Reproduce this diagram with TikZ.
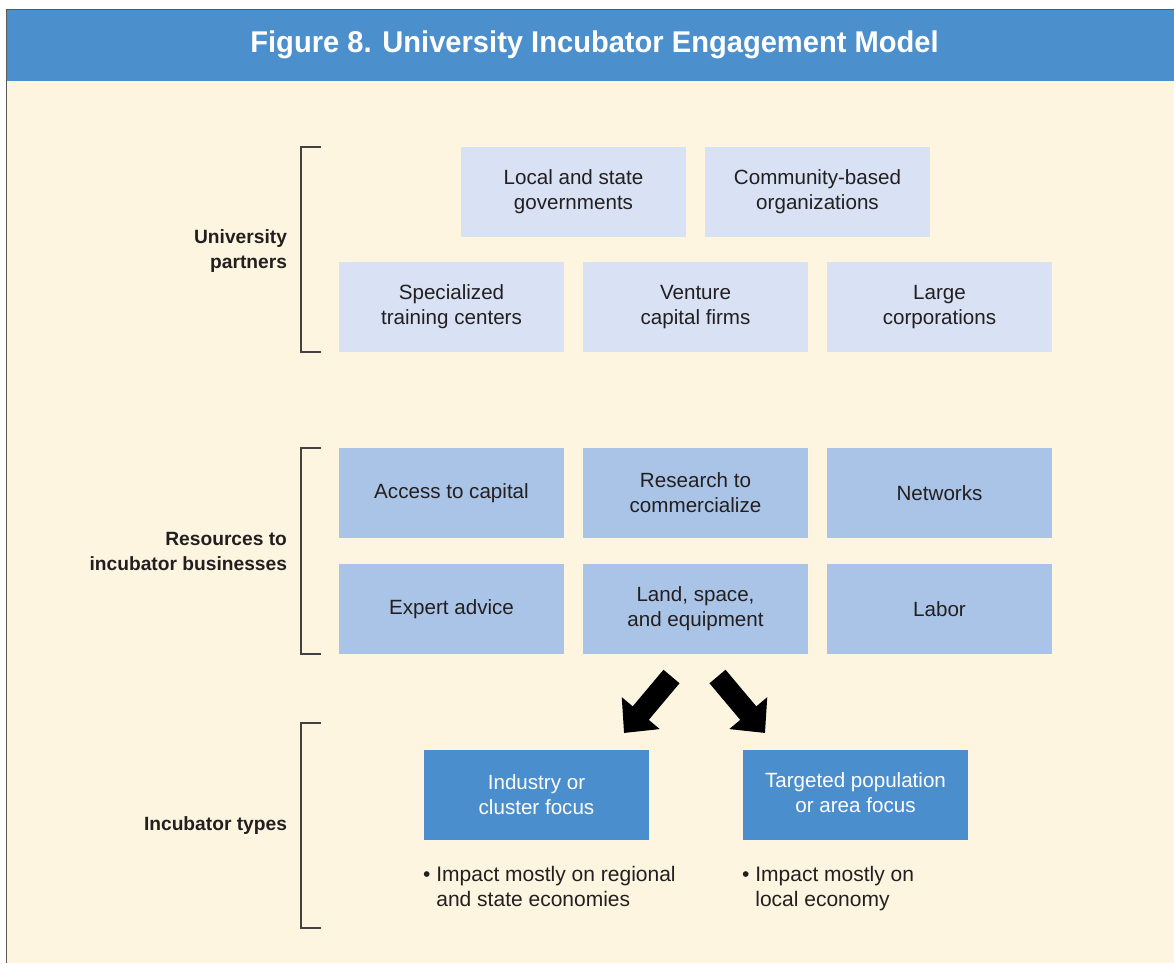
\documentclass[tikz,border=0pt]{standalone}
\usepackage{fontspec}
\setmainfont{Liberation Sans}
\newfontfamily\titlefont[FakeStretch=0.97]{Liberation Sans}
\usetikzlibrary{arrows.meta}
\definecolor{cream}{HTML}{FEF5E1}
\definecolor{titleblue}{HTML}{4C8FCD}
\definecolor{lightbox}{HTML}{D8E2F4}
\definecolor{midbox}{HTML}{AAC4E7}
\definecolor{darkbox}{HTML}{4B8ECE}
\definecolor{ink}{HTML}{231F20}
\definecolor{framegray}{HTML}{5A5A5A}
\begin{document}
\begin{tikzpicture}[x=1pt,y=-1pt,
  boxbase/.style={minimum width=225pt,minimum height=90pt,inner sep=0pt,align=center,
    font=\fontsize{20.6}{25}\selectfont,text=ink},
  partnerbox/.style={boxbase,fill=lightbox},
  resbox/.style={boxbase,fill=midbox},
  typebox/.style={boxbase,fill=darkbox,text=white},
  grouplabel/.style={anchor=east,align=right,font=\fontsize{19.2}{25}\selectfont\bfseries,text=ink},
  bullettext/.style={anchor=north west,align=left,inner sep=0pt,font=\fontsize{21}{25}\selectfont,text=ink},
  bracketline/.style={draw=ink!85,line width=1.3pt},
  bigarrow/.style={line width=21pt,-{Triangle[width=48pt,length=26pt]},draw=black}
]
\useasboundingbox (0,0) rectangle (1174,963);
% background
\fill[white] (0,0) rectangle (1174,963);
\fill[cream] (6.5,9.5) rectangle (1174,963);
\fill[titleblue] (6.5,9.5) rectangle (1174,81);
\draw[framegray,line width=1.5pt] (6.5,963) -- (6.5,9.5) -- (1174,9.5);
\node[font=\titlefont\bfseries\fontsize{30}{34}\selectfont,text=white] (title) at (594.5,45) {Figure 8. University Incubator Engagement Model};

% brackets
\draw[bracketline] (321,147) -- (301,147) -- (301,352) -- (321,352);
\draw[bracketline] (321,448) -- (301,448) -- (301,654) -- (321,654);
\draw[bracketline] (321,723) -- (301,723) -- (301,928) -- (321,928);

% group labels
\node[grouplabel] (lblpartners) at (290.5,251) {University\\partners};
\node[grouplabel] (lblresources) at (290.5,551) {Resources to\\incubator businesses};
\node[grouplabel] (lbltypes) at (290.5,826) {Incubator types};

% partner boxes
\node[partnerbox] (local) at (573.5,192) {Local and state\\governments};
\node[partnerbox] (community) at (817.5,192) {Community-based\\organizations};
\node[partnerbox] (training) at (451.5,307) {Specialized\\training centers};
\node[partnerbox] (venture) at (695.5,307) {Venture\\capital firms};
\node[partnerbox] (corps) at (939.5,307) {Large\\corporations};

% resource boxes
\node[resbox] (capital) at (451.5,493) {Access to capital};
\node[resbox] (research) at (695.5,493) {Research to\\commercialize};
\node[resbox] (networks) at (939.5,493) {Networks};
\node[resbox] (expert) at (451.5,609) {Expert advice};
\node[resbox] (land) at (695.5,609) {Land, space,\\and equipment};
\node[resbox] (labor) at (939.5,609) {Labor};

% incubator types
\node[typebox] (industry) at (536.5,795) {Industry or\\cluster focus};
\node[typebox] (targeted) at (855.5,795) {\raisebox{2.5pt}{\begin{tabular}{@{}c@{}}Targeted population\\or area focus\end{tabular}}};

% bullets
\node[bullettext] (impact1) at (423,866) {\textbullet\ Impact mostly on regional\\\hphantom{\textbullet}\ and state economies};
\node[bullettext] (impact2) at (742,866) {\textbullet\ Impact mostly on\\\hphantom{\textbullet}\ local economy};

% arrows
\coordinate (lefttail) at (671.5,676.5);
\coordinate (lefttip) at (624,733);
\coordinate (righttail) at (717.5,676.5);
\coordinate (righttip) at (765,733);
\draw[bigarrow] (lefttail) -- (lefttip);
\draw[bigarrow] (righttail) -- (righttip);
\end{tikzpicture}
\end{document}
